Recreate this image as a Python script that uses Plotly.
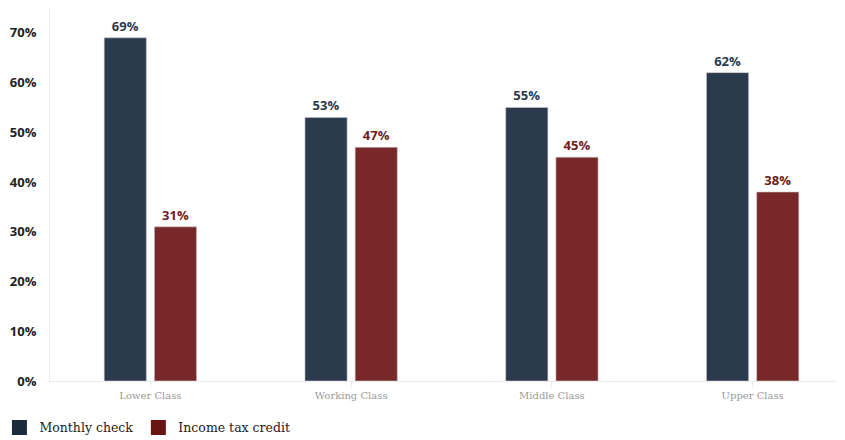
import plotly.graph_objects as go

categories = ["Lower Class", "Working Class", "Middle Class", "Upper Class"]
monthly_check = [69, 53, 55, 62]
income_tax_credit = [31, 47, 45, 38]
y_ticks = [0, 10, 20, 30, 40, 50, 60, 70]
y_tick_labels = [f"{v}%" for v in y_ticks]

NAVY = "#2b3a4d"
RED = "#782829"

fig = go.Figure()
for name, vals, col, tcol, leg in [
    ("Monthly check", monthly_check, NAVY, "#2b3a4d", "#1c2a3d"),
    ("Income tax credit", income_tax_credit, RED, "#6e1c1c", "#6a1414"),
]:
    fig.add_trace(go.Bar(
        x=categories, y=vals, name=name, showlegend=False,
        marker=dict(color=col, line=dict(color="rgba(200,200,200,0.6)", width=1)),
        text=[f"{v}%" for v in vals], textposition="outside",
        textfont=dict(family="Open Sans", size=13, color=tcol, weight="bold"),
        cliponaxis=False,
    ))
    fig.add_trace(go.Scatter(
        x=[None], y=[None], mode="markers", name=name, showlegend=True,
        marker=dict(symbol="square", size=15, color=leg, line=dict(width=0)),
    ))

# page body has an 8px margin, so the figure is sized/offset to compensate
fig.update_layout(
    width=837, height=432,
    margin=dict(l=42, r=0, t=0, b=59, autoexpand=False),
    paper_bgcolor="white", plot_bgcolor="white",
    barmode="group", bargap=0.5, bargroupgap=0.16,
    showlegend=True,
    legend=dict(orientation="h", x=-0.0636, xanchor="left", y=-0.126, yanchor="middle",
                font=dict(family="DejaVu Serif", size=12.5, color="#222"),
                itemwidth=30, traceorder="normal", tracegroupgap=0),
    xaxis=dict(range=[-0.5, 3.46], showgrid=False, showline=True, linecolor="#ebebeb", linewidth=1,
               ticks="outside", ticklen=5, tickcolor="#ebebeb", automargin=False,
               tickfont=dict(family="DejaVu Serif", size=10, color="#999999")),
    yaxis=dict(range=[0, 75], tickvals=y_ticks, ticktext=y_tick_labels, showgrid=False,
               showline=True, linecolor="#f0f0f0", linewidth=1, zeroline=False,
               ticks="", ticklabelstandoff=10, automargin=False,
               tickfont=dict(family="Open Sans", size=13, color="#222", weight="bold")),
)

fig.write_html("out.html")
